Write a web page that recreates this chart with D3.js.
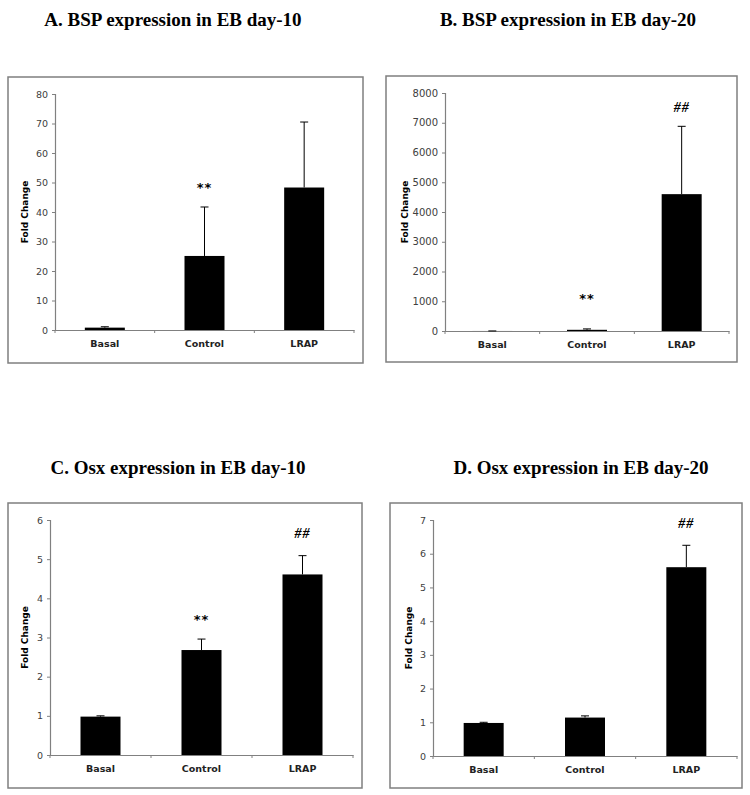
<!DOCTYPE html>
<html><head><meta charset="utf-8">
<script src="https://cdn.jsdelivr.net/npm/d3@7"></script>
<style>body{margin:0;background:#fff}svg{display:block}</style>
</head><body>
<svg id="c" width="750" height="795"></svg>
<script>
const categories = ["Basal", "Control", "LRAP"];
const titles = ["A. BSP expression in EB day-10", "B. BSP expression in EB day-20",
                "C. Osx expression in EB day-10", "D. Osx expression in EB day-20"];
const valuesA = [0.8, 25.1, 48.3];
const errorsA = [0.3, 16.6, 22.2];
const valuesB = [1, 40, 4600];
const errorsB = [1, 30, 2280];
const valuesC = [0.98, 2.68, 4.61];
const errorsC = [0.02, 0.28, 0.48];
const valuesD = [0.98, 1.14, 5.6];
const errorsD = [0.02, 0.05, 0.65];
const yMax = [80, 8000, 6, 7];
const yTicksA = [0,10,20,30,40,50,60,70,80];
const yTicksB = [0,1000,2000,3000,4000,5000,6000,7000,8000];
const yTicksC = [0,1,2,3,4,5,6];
const yTicksD = [0,1,2,3,4,5,6,7];
const marksA = [null, "**", null];
const marksB = [null, "**", "##"];
const marksC = [null, "**", "##"];
const marksD = [null, null, "##"];

const layout = [
  {frame:[8,77,363,363], x0:55, x1:354, y0:330, yTop:94, title:[173,26], yt:30, tickFs:9.5, markY:[null,192,null]},
  {frame:[386,76,737,362], x0:445, x1:729, y0:331, yTop:93, title:[568,26], yt:40, tickFs:10, markY:[null,303,112]},
  {frame:[8,503,362,788], x0:50, x1:353, y0:755, yTop:520, title:[178,474], yt:25, tickFs:9.5, markY:[null,624,538]},
  {frame:[390,503,742,788], x0:433, x1:737, y0:756, yTop:520, title:[581,474], yt:24, tickFs:9.5, markY:[null,null,528]}
];
const panels = [
  {v:valuesA, e:errorsA, ticks:yTicksA, marks:marksA},
  {v:valuesB, e:errorsB, ticks:yTicksB, marks:marksB},
  {v:valuesC, e:errorsC, ticks:yTicksC, marks:marksC},
  {v:valuesD, e:errorsD, ticks:yTicksD, marks:marksD}
];

const svg = d3.select("#c");
panels.forEach((p, i) => {
  const L = layout[i];
  const g = svg.append("g");
  const [fx0, fy0, fx1, fy1] = L.frame;
  g.append("rect").attr("x", fx0).attr("y", fy0).attr("width", fx1 - fx0).attr("height", fy1 - fy0)
    .attr("fill", "none").attr("stroke", "#7f7f7f").attr("stroke-width", 1.5);
  g.append("text").attr("x", L.title[0]).attr("y", L.title[1]).attr("text-anchor", "middle")
    .attr("font-family", "Liberation Serif, Times New Roman, serif").attr("font-weight", "bold")
    .attr("font-size", 19).attr("fill", "#000").text(titles[i]);

  const x = d3.scaleBand().domain(categories).range([L.x0, L.x1]).paddingInner(0).paddingOuter(0);
  const y = d3.scaleLinear().domain([0, yMax[i]]).range([L.y0, L.yTop]);
  const barW = 40;

  // y axis
  const ya = g.append("g").attr("transform", `translate(${L.x0},0)`)
    .call(d3.axisLeft(y).tickValues(p.ticks).tickSize(3).tickPadding(4).tickFormat(d3.format("d")));
  ya.select(".domain").attr("stroke", "#808080").attr("stroke-width", 1.2);
  ya.selectAll(".tick line").attr("stroke", "#808080");
  ya.selectAll(".tick text").attr("font-family", "DejaVu Sans, Verdana, sans-serif").attr("font-size", L.tickFs).attr("fill", "#404040");

  // x axis
  const xa = g.append("g").attr("transform", `translate(0,${L.y0})`)
    .call(d3.axisBottom(x).tickSize(0).tickPadding(10));
  xa.select(".domain").attr("stroke", "#808080").attr("stroke-width", 1.2);
  xa.selectAll(".tick text").attr("font-family", "DejaVu Sans, Verdana, sans-serif").attr("font-weight", "bold")
    .attr("font-size", 9.5).attr("fill", "#222");
  const bounds = [L.x0].concat(categories.map(c => x(c) + x.bandwidth()));
  g.selectAll("line.xt").data(bounds).join("line").attr("class", "xt")
    .attr("x1", d => d).attr("x2", d => d).attr("y1", L.y0).attr("y2", L.y0 + 3).attr("stroke", "#808080");

  // y title
  g.append("text").attr("transform", `translate(${L.x0 - L.yt + 3},${(L.y0 + L.yTop) / 2}) rotate(-90)`)
    .attr("text-anchor", "middle").attr("font-family", "DejaVu Sans, Verdana, sans-serif").attr("font-weight", "bold")
    .attr("font-size", 9).attr("fill", "#000").text("Fold Change");

  // error bars
  categories.forEach((c, k) => {
    const cx = x(c) + x.bandwidth() / 2;
    g.append("line").attr("x1", cx).attr("x2", cx).attr("y1", y(p.v[k])).attr("y2", y(p.v[k] + p.e[k]))
      .attr("stroke", "#000").attr("stroke-width", 1);
    g.append("line").attr("x1", cx - 4).attr("x2", cx + 4).attr("y1", y(p.v[k] + p.e[k])).attr("y2", y(p.v[k] + p.e[k]))
      .attr("stroke", "#000").attr("stroke-width", 1);
  });
  // bars
  g.selectAll("rect.bar").data(categories).join("rect").attr("class", "bar")
    .attr("x", c => x(c) + x.bandwidth() / 2 - barW / 2).attr("width", barW)
    .attr("y", (c, k) => y(p.v[k])).attr("height", (c, k) => L.y0 - y(p.v[k]))
    .attr("fill", "#000");
  // significance marks
  categories.forEach((c, k) => {
    if (!p.marks[k]) return;
    const cx = x(c) + x.bandwidth() / 2;
    g.append("text").attr("x", cx).attr("y", L.markY[k]).attr("text-anchor", "middle")
      .attr("font-family", p.marks[k] === "##" ? "Liberation Serif, serif" : "DejaVu Sans, sans-serif")
      .attr("font-style", p.marks[k] === "##" ? "italic" : "normal")
      .attr("font-weight", "bold").attr("font-size", p.marks[k] === "##" ? 14 : 13).attr("letter-spacing", 1)
      .attr("fill", "#000").text(p.marks[k]);
  });
});
</script>
</body></html>
